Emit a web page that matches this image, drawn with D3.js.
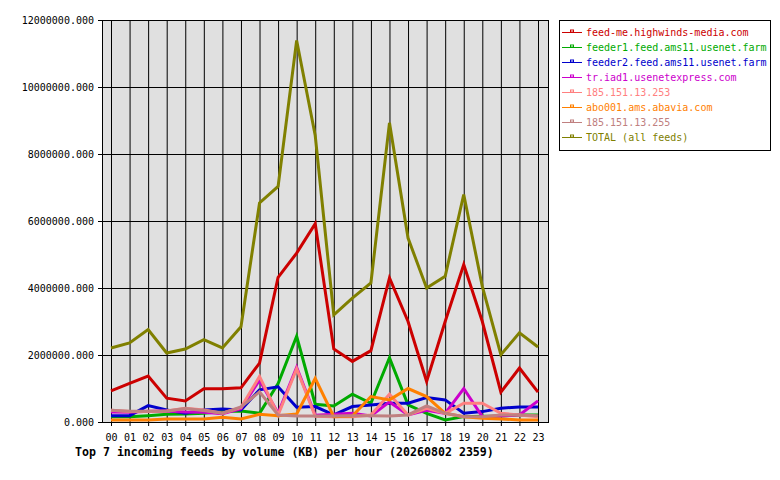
<!DOCTYPE html>
<html>
<head>
<meta charset="utf-8">
<script src="https://cdn.jsdelivr.net/npm/d3@7"></script>
<style>
  body { margin: 0; background: #fff; }
  text { font-family: "DejaVu Sans Mono", monospace; }
</style>
</head>
<body>
<svg id="chart" width="780" height="480"></svg>
<script>
// hours on the x axis
let hours = ["00","01","02","03","04","05","06","07","08","09","10","11",
             "12","13","14","15","16","17","18","19","20","21","22","23"];
let yTicks = [0, 2000000, 4000000, 6000000, 8000000, 10000000, 12000000];

let feedNames = ["feed-me.highwinds-media.com", "feeder1.feed.ams11.usenet.farm",
                 "feeder2.feed.ams11.usenet.farm", "tr.iad1.usenetexpress.com",
                 "185.151.13.253", "abo001.ams.abavia.com", "185.151.13.255",
                 "TOTAL (all feeds)"];
let feedColors = ["#cc0000", "#00aa00", "#0000cc", "#cc00cc", "#ff8080", "#ff8000", "#c08080", "#808000"];

// values in KB, per hour
let highwinds = [930000, 1150000, 1370000, 710000, 630000, 990000, 990000, 1020000, 1760000, 4320000, 5040000, 5920000,
                 2180000, 1810000, 2130000, 4300000, 3000000, 1210000, 3000000, 4700000, 3000000, 890000, 1610000, 890000];
let feeder1 = [160000, 160000, 190000, 230000, 240000, 260000, 310000, 330000, 260000, 1150000, 2560000, 530000,
               480000, 830000, 560000, 1920000, 510000, 260000, 60000, 160000, 170000, 180000, 210000, 210000];
let feeder2 = [190000, 190000, 490000, 360000, 260000, 360000, 390000, 360000, 960000, 1050000, 440000, 460000,
               210000, 460000, 510000, 560000, 560000, 730000, 660000, 260000, 310000, 410000, 450000, 450000];
let triad1 = [300000, 290000, 320000, 330000, 300000, 290000, 250000, 400000, 1250000, 260000, 1630000, 200000,
              230000, 260000, 180000, 600000, 210000, 350000, 260000, 1000000, 160000, 180000, 210000, 630000];
let ip253 = [350000, 310000, 310000, 330000, 410000, 360000, 260000, 430000, 1360000, 210000, 1590000, 170000,
             160000, 160000, 210000, 830000, 210000, 410000, 260000, 560000, 560000, 260000, 210000, 160000];
let abavia = [60000, 60000, 60000, 90000, 90000, 90000, 140000, 90000, 230000, 190000, 240000, 1300000,
              160000, 180000, 760000, 660000, 1000000, 760000, 260000, 160000, 110000, 90000, 60000, 60000];
let ip255 = [350000, 320000, 320000, 330000, 400000, 340000, 260000, 450000, 900000, 210000, 180000, 180000,
             180000, 190000, 190000, 180000, 210000, 480000, 260000, 160000, 160000, 210000, 210000, 190000];
let total = [2210000, 2360000, 2760000, 2060000, 2180000, 2460000, 2210000, 2840000, 6540000, 7030000, 11390000, 8550000,
             3200000, 3700000, 4150000, 8930000, 5490000, 4000000, 4350000, 6790000, 4050000, 2010000, 2660000, 2240000];

let series = [highwinds, feeder1, feeder2, triad1, ip253, abavia, ip255, total];

let svg = d3.select("#chart");
let plot = {left: 102, top: 20, right: 548, bottom: 422};

let xScale = d3.scalePoint()
  .domain(hours)
  .range([111, 538]);

let yScale = d3.scaleLinear()
  .domain([0, 12000000])
  .range([plot.bottom, plot.top]);

// plot background
svg.append("rect")
  .attr("x", plot.left)
  .attr("y", plot.top)
  .attr("width", plot.right - plot.left)
  .attr("height", plot.bottom - plot.top)
  .style("fill", "#e0e0e0");

// grid lines
svg.selectAll(".vgrid")
  .data(hours)
  .enter()
  .append("line")
    .attr("x1", d => xScale(d) + 0.5)
    .attr("x2", d => xScale(d) + 0.5)
    .attr("y1", plot.top)
    .attr("y2", plot.bottom + 4)
    .style("stroke", "#000")
    .style("stroke-width", 1);
svg.selectAll(".hgrid")
  .data(yTicks)
  .enter()
  .append("line")
    .attr("x1", plot.left - 4)
    .attr("x2", plot.right)
    .attr("y1", d => Math.round(yScale(d)) + 0.5)
    .attr("y2", d => Math.round(yScale(d)) + 0.5)
    .style("stroke", "#000")
    .style("stroke-width", 1);

// frame
svg.append("rect")
  .attr("x", plot.left + 0.5)
  .attr("y", plot.top + 0.5)
  .attr("width", plot.right - plot.left)
  .attr("height", plot.bottom - plot.top)
  .style("fill", "none")
  .style("stroke", "#000")
  .style("stroke-width", 1);

// axis labels
svg.selectAll(".ylab")
  .data(yTicks)
  .enter()
  .append("text")
    .attr("x", 94)
    .attr("y", d => yScale(d) + 4)
    .attr("text-anchor", "end")
    .style("font-size", "10px")
    .text(d => d3.format(".3f")(d));
svg.selectAll(".xlab")
  .data(hours)
  .enter()
  .append("text")
    .attr("x", d => xScale(d) + 0.5)
    .attr("y", 441)
    .attr("text-anchor", "middle")
    .style("font-size", "10px")
    .text(d => d);

// lines
svg.append("clipPath").attr("id", "plotClip")
  .append("rect")
  .attr("x", plot.left).attr("y", plot.top)
  .attr("width", plot.right - plot.left).attr("height", plot.bottom - plot.top);

let line = d3.line()
  .x((d, i) => xScale(hours[i]))
  .y(d => yScale(d));

svg.append("g")
  .attr("clip-path", "url(#plotClip)")
  .selectAll("path")
  .data(series)
  .enter()
  .append("path")
    .attr("d", d => line(d))
    .style("fill", "none")
    .style("stroke", (d, i) => feedColors[i])
    .style("stroke-width", 3)
    .style("stroke-linejoin", "miter");

// legend
svg.append("rect")
  .attr("x", 559.5)
  .attr("y", 20.5)
  .attr("width", 211)
  .attr("height", 130)
  .style("fill", "#fff")
  .style("stroke", "#000")
  .style("stroke-width", 1);

let legend = svg.selectAll(".legend")
  .data(feedNames)
  .enter()
  .append("g")
    .attr("transform", (d, i) => "translate(0," + (32.5 + i * 15) + ")");
legend.append("line")
  .attr("x1", 562).attr("x2", 582)
  .attr("y1", 0).attr("y2", 0)
  .style("stroke", (d, i) => feedColors[i])
  .style("stroke-width", 1);
legend.append("rect")
  .attr("x", 570.5).attr("y", -2.5)
  .attr("width", 3).attr("height", 2)
  .style("fill", "#fff")
  .style("stroke", (d, i) => feedColors[i])
  .style("stroke-width", 1);
legend.append("text")
  .attr("x", 586)
  .attr("y", 3.5)
  .style("font-size", "10px")
  .style("fill", (d, i) => feedColors[i])
  .text(d => d);

// title
svg.append("text")
  .attr("x", 75)
  .attr("y", 456)
  .style("font-size", "11.6px")
  .style("font-weight", "bold")
  .text("Top 7 incoming feeds by volume (KB) per hour (20260802 2359)");
</script>
</body>
</html>
